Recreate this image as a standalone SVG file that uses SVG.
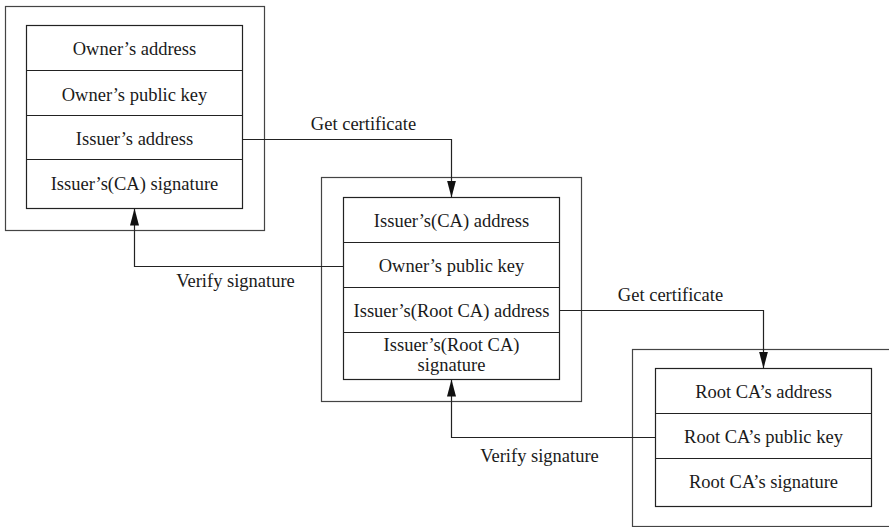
<svg xmlns="http://www.w3.org/2000/svg" width="889" height="527" viewBox="0 0 889 527">
  <style>
    .outer { fill: none; stroke: #444; stroke-width: 1.2; }
    .inner { fill: #fff; stroke: #222; stroke-width: 1.2; }
    .div { stroke: #222; stroke-width: 1.2; }
    .conn { fill: none; stroke: #222; stroke-width: 1.2; }
    text { font-family: "Liberation Serif", "Times New Roman", serif; font-size: 18.5px; fill: #1a1a1a; }
    .c { text-anchor: middle; }
  </style>
  <defs>
    <marker id="arrow" markerUnits="userSpaceOnUse" markerWidth="18" markerHeight="10" refX="17" refY="4.5" orient="auto">
      <path d="M0,0 L17,4.5 L0,9 z" fill="#111"/>
    </marker>
  </defs>
  <rect width="889" height="527" fill="#fff"/>

  <!-- end-entity certificate -->
  <g id="owner-cert">
    <rect class="outer" x="5.5" y="6.5" width="259" height="224"/>
    <rect class="inner" x="26.5" y="25.5" width="216" height="183"/>
    <line class="div" x1="26.5" y1="70.5" x2="242.5" y2="70.5"/>
    <line class="div" x1="26.5" y1="115.5" x2="242.5" y2="115.5"/>
    <line class="div" x1="26.5" y1="159.5" x2="242.5" y2="159.5"/>
    <text class="c" x="134.5" y="55">Owner’s address</text>
    <text class="c" x="134.5" y="100.5">Owner’s public key</text>
    <text class="c" x="134.5" y="145">Issuer’s address</text>
    <text class="c" x="134.5" y="190">Issuer’s(CA) signature</text>
  </g>

  <!-- intermediate CA certificate -->
  <g id="ca-cert">
    <rect class="outer" x="321.5" y="177.5" width="260" height="224"/>
    <rect class="inner" x="343.5" y="197.5" width="216" height="182"/>
    <line class="div" x1="343.5" y1="242.5" x2="559.5" y2="242.5"/>
    <line class="div" x1="343.5" y1="287.5" x2="559.5" y2="287.5"/>
    <line class="div" x1="343.5" y1="332.5" x2="559.5" y2="332.5"/>
    <text class="c" x="451.5" y="227">Issuer’s(CA) address</text>
    <text class="c" x="451.5" y="272">Owner’s public key</text>
    <text class="c" x="451.5" y="317">Issuer’s(Root CA) address</text>
    <text class="c" x="451.5" y="351">Issuer’s(Root CA)</text>
    <text class="c" x="451.5" y="371">signature</text>
  </g>

  <!-- root CA certificate -->
  <g id="root-cert">
    <rect class="outer" x="632.5" y="349.5" width="280" height="177"/>
    <rect class="inner" x="655.5" y="368.5" width="216" height="138"/>
    <line class="div" x1="655.5" y1="413.5" x2="871.5" y2="413.5"/>
    <line class="div" x1="655.5" y1="458.5" x2="871.5" y2="458.5"/>
    <text class="c" x="763.5" y="398">Root CA’s address</text>
    <text class="c" x="763.5" y="443">Root CA’s public key</text>
    <text class="c" x="763.5" y="488">Root CA’s signature</text>
  </g>

  <!-- links between certificates -->
  <g id="connectors">
    <path class="conn" d="M242.5 139.5 H451.5 V197.5" marker-end="url(#arrow)"/>
    <path class="conn" d="M343.5 266.5 H134.5 V208.5" marker-end="url(#arrow)"/>
    <path class="conn" d="M559.5 310.5 H763.5 V368.5" marker-end="url(#arrow)"/>
    <path class="conn" d="M655.5 437.5 H451.5 V379.5" marker-end="url(#arrow)"/>
    <text class="c" x="363.5" y="130">Get certificate</text>
    <text class="c" x="235.5" y="287">Verify signature</text>
    <text class="c" x="670.5" y="301">Get certificate</text>
    <text class="c" x="539.5" y="462">Verify signature</text>
  </g>
</svg>
